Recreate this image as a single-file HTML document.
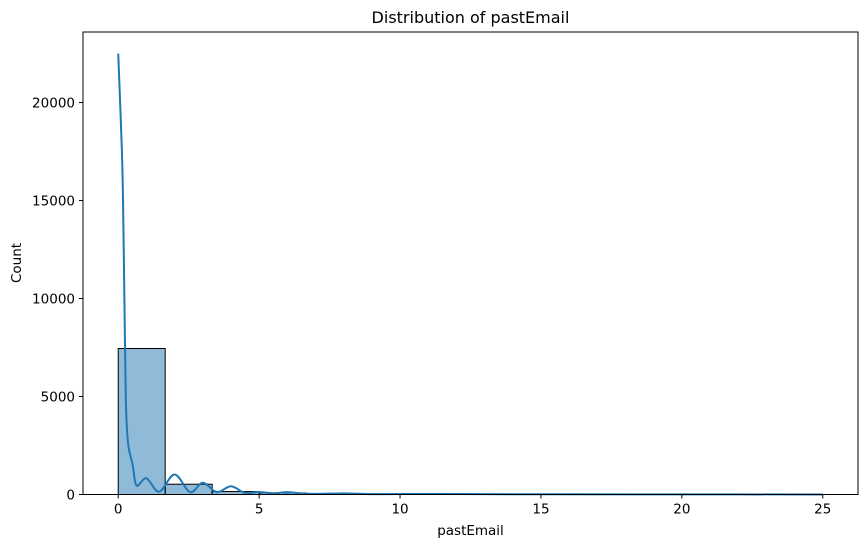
<!DOCTYPE html>
<html><head><meta charset="utf-8"><style>
html,body{margin:0;padding:0;background:#fff;}
svg{display:block;font-family:"DejaVu Sans","Liberation Sans",sans-serif;}
</style></head><body>
<svg id="chart" width="868" height="547" viewBox="0 0 868 547" xmlns="http://www.w3.org/2000/svg">
<text x="470.5" y="23" font-size="16" text-anchor="middle" fill="#000">Distribution of pastEmail</text>
<g id="plot"></g>
<text x="470.5" y="535" font-size="13.5" text-anchor="middle" fill="#000">pastEmail</text>
<text x="0" y="0" font-size="13.5" text-anchor="middle" fill="#000" transform="translate(21,263) rotate(-90)">Count</text>
</svg>
<script>
const binCounts = [7450, 525, 150, 80, 50, 30, 15, 10, 8, 6, 4, 3, 2, 2, 1];
const binStart = 0, binEnd = 25;
const kdeX = [0, 0.13, 0.17, 0.22, 0.27, 0.35, 0.51, 0.65, 1.0, 1.45, 2.0, 2.55, 3.0, 3.5, 4.0, 4.5, 5.0, 5.5, 6.0, 6.5, 7.0, 8.0, 9.0, 10.0, 12.0, 15.0, 20.0, 25.0];
const kdeY = [22500, 17550, 15000, 9900, 4800, 2600, 1530, 460, 830, 140, 1020, 120, 600, 120, 420, 80, 130, 60, 120, 50, 30, 60, 20, 25, 25, 10, 5, 2];
const xTicks = [0, 5, 10, 15, 20, 25];
const yTicks = [0, 5000, 10000, 15000, 20000];

const L = 83, R = 858, T = 32, B = 494.5;
const xMin = -1.25, xMax = 26.25, yMin = 0, yMax = 23600;
const xs = v => L + (v - xMin) / (xMax - xMin) * (R - L);
const ys = v => B - (v - yMin) / (yMax - yMin) * (B - T);
const NS = "http://www.w3.org/2000/svg";
const g = document.getElementById('plot');
function mk(tag, attrs) { const e = document.createElementNS(NS, tag); for (const k in attrs) e.setAttribute(k, attrs[k]); g.appendChild(e); return e; }

const bw = (binEnd - binStart) / binCounts.length;
binCounts.forEach((c, i) => {
  const x0 = xs(binStart + i * bw), x1 = xs(binStart + (i + 1) * bw);
  const r = mk('rect', { x: x0, y: ys(c), width: x1 - x0, height: B - ys(c), fill: 'rgba(31,119,180,0.5)', stroke: '#000', 'stroke-width': 1 });
  
  
});

const pts = kdeX.map((x, i) => [xs(x), ys(kdeY[i])]);
let d = 'M' + pts[0][0] + ',' + pts[0][1];
for (let i = 0; i < pts.length - 1; i++) {
  const p0 = pts[Math.max(0, i - 1)], p1 = pts[i], p2 = pts[i + 1], p3 = pts[Math.min(pts.length - 1, i + 2)];
  const c1x = p1[0] + (p2[0] - p0[0]) / 6, c1y = p1[1] + (p2[1] - p0[1]) / 6;
  const c2x = p2[0] - (p3[0] - p1[0]) / 6, c2y = p2[1] - (p3[1] - p1[1]) / 6;
  d += ` C${c1x},${Math.min(c1y, B)} ${c2x},${Math.min(c2y, B)} ${p2[0]},${p2[1]}`;
}
const kde = mk('path', { d: d, fill: 'none', stroke: '#1f77b4', 'stroke-width': 2 });



const frame = mk('rect', { x: L, y: T, width: R - L, height: B - T, fill: 'none', stroke: '#000', 'stroke-width': 1 });



xTicks.forEach(v => {
  const x = xs(v);
  const t = mk('line', { x1: x, x2: x, y1: B, y2: B + 4, stroke: '#000' });
  
  
  const l = mk('text', { x: x, y: B + 19, 'font-size': 13.5, 'text-anchor': 'middle', fill: '#000' });
  l.textContent = v;
  
  
});
yTicks.forEach(v => {
  const y = ys(v);
  const t = mk('line', { x1: L - 4, x2: L, y1: y, y2: y, stroke: '#000' });
  
  
  const l = mk('text', { x: L - 8, y: y + 5, 'font-size': 13.5, 'text-anchor': 'end', fill: '#000' });
  l.textContent = v;
  
  
});
</script>
</body></html>
